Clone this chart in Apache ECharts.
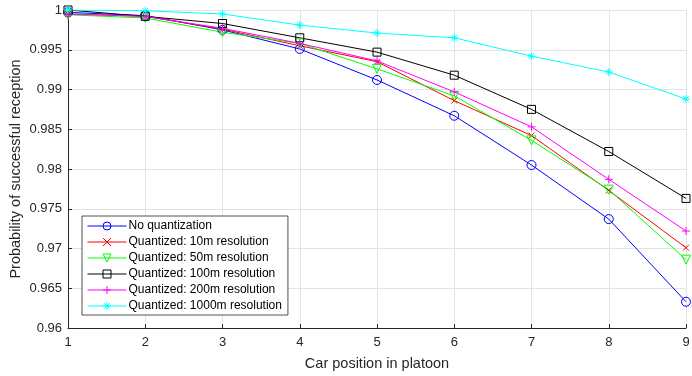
<!DOCTYPE html>
<html>
<head>
<meta charset="utf-8">
<script src="https://cdn.jsdelivr.net/npm/echarts@6/dist/echarts.min.js"></script>
<style>
html, body { margin: 0; padding: 0; background: #fff; }
#chart { width: 692px; height: 376px; }
</style>
</head>
<body>
<div id="chart"></div>
<script>
var positions = [1, 2, 3, 4, 5, 6, 7, 8, 9];

var noQuant   = [0.9997, 0.9993, 0.9975, 0.9951, 0.9912, 0.9867, 0.9805, 0.9737, 0.9633];
var quant10   = [0.9995, 0.9992, 0.9976, 0.9955, 0.9935, 0.9886, 0.9842, 0.9773, 0.9701];
var quant50   = [0.9994, 0.9990, 0.9972, 0.9958, 0.9926, 0.9892, 0.9836, 0.9774, 0.9686];
var quant100  = [1.0000, 0.9992, 0.9983, 0.9965, 0.9947, 0.9918, 0.9875, 0.9822, 0.9763];
var quant200  = [0.9995, 0.9992, 0.9977, 0.9958, 0.9936, 0.9897, 0.9853, 0.9787, 0.9722];
var quant1000 = [1.0000, 0.9999, 0.9995, 0.9981, 0.9971, 0.9965, 0.9942, 0.9922, 0.9888];

var seriesNames = [
    'No quantization',
    'Quantized: 10m resolution',
    'Quantized: 50m resolution',
    'Quantized: 100m resolution',
    'Quantized: 200m resolution',
    'Quantized: 1000m resolution'
];

var chart = echarts.init(document.getElementById('chart'));

// matlab style markers
var mk = {
    circle: 'path://M10,5A5,5,0,1,1,0,5A5,5,0,1,1,10,5Z',
    cross: 'path://M0,0L10,10M10,0L0,10',
    triDown: 'path://M0,0L10,0L5,9Z',
    square: 'path://M0,0L10,0L10,10L0,10Z',
    plus: 'path://M5,0L5,10M0,5L10,5',
    star: 'path://M5,0L5,10M0,5L10,5M1.5,1.5L8.5,8.5M8.5,1.5L1.5,8.5'
};

function pairs(vals) {
    var out = [];
    for (var i = 0; i < vals.length; i++) {
        out.push([positions[i], vals[i]]);
    }
    return out;
}

function makeSeries(name, vals, color, symbol, size) {
    return {
        name: name,
        type: 'line',
        data: pairs(vals),
        symbol: symbol,
        symbolSize: size,
        showAllSymbol: true,
        lineStyle: { color: color, width: 1 },
        itemStyle: { color: 'transparent', borderColor: color, borderWidth: 1 },
        emphasis: { disabled: true },
        animation: false
    };
}

var option = {
    animation: false,
    backgroundColor: '#fff',
    textStyle: { fontFamily: 'Liberation Sans, Arial, sans-serif' },
    grid: { left: 68, right: 6, top: 10, bottom: 48, containLabel: false, outerBoundsMode: 'none' },
    legend: {
        orient: 'vertical',
        left: 82,
        top: 216,
        padding: [4, 6, 3, 5],
        itemWidth: 39,
        itemHeight: 10,
        itemGap: 4,
        backgroundColor: '#fff',
        borderColor: '#262626',
        borderWidth: 0.8,
        borderRadius: 0,
        lineStyle: { width: 1 },
        itemStyle: { borderWidth: 1 },
        textStyle: { fontSize: 12, color: '#000', padding: [0, 0, 0, -3] },
        data: seriesNames
    },
    xAxis: {
        type: 'value',
        min: 1,
        max: 9,
        interval: 1,
        name: 'Car position in platoon',
        nameLocation: 'middle',
        nameGap: 28,
        nameMoveOverlap: false,
        nameTextStyle: { fontSize: 14.5, color: '#262626' },
        axisLine: { onZero: false, lineStyle: { color: '#262626', width: 1 } },
        axisTick: { inside: true, length: 4, lineStyle: { color: '#262626' } },
        axisLabel: { fontSize: 13, color: '#262626', margin: 8 },
        splitLine: { show: true, lineStyle: { color: '#e3e3e3', width: 1 } }
    },
    yAxis: {
        type: 'value',
        min: 0.96,
        max: 1,
        interval: 0.005,
        name: 'Probability of successful reception',
        nameLocation: 'middle',
        nameGap: 45,
        nameMoveOverlap: false,
        nameTextStyle: { fontSize: 14.5, color: '#262626' },
        axisLine: { show: true, onZero: false, lineStyle: { color: '#262626', width: 1 } },
        axisTick: { show: true, inside: true, length: 4, lineStyle: { color: '#262626' } },
        axisLabel: {
            fontSize: 13,
            color: '#262626',
            margin: 6,
            formatter: function (v) { return String(parseFloat(v.toFixed(3))); }
        },
        splitLine: { show: true, lineStyle: { color: '#e3e3e3', width: 1 } }
    },
    series: [
        makeSeries(seriesNames[0], noQuant, '#0000ff', mk.circle, 9),
        makeSeries(seriesNames[1], quant10, '#ff0000', mk.cross, 6),
        makeSeries(seriesNames[2], quant50, '#00ff00', mk.triDown, 9),
        makeSeries(seriesNames[3], quant100, '#000000', mk.square, 8),
        makeSeries(seriesNames[4], quant200, '#ff00ff', mk.plus, 8),
        makeSeries(seriesNames[5], quant1000, '#00ffff', mk.star, 8)
    ]
};

chart.setOption(option);
</script>
</body>
</html>
